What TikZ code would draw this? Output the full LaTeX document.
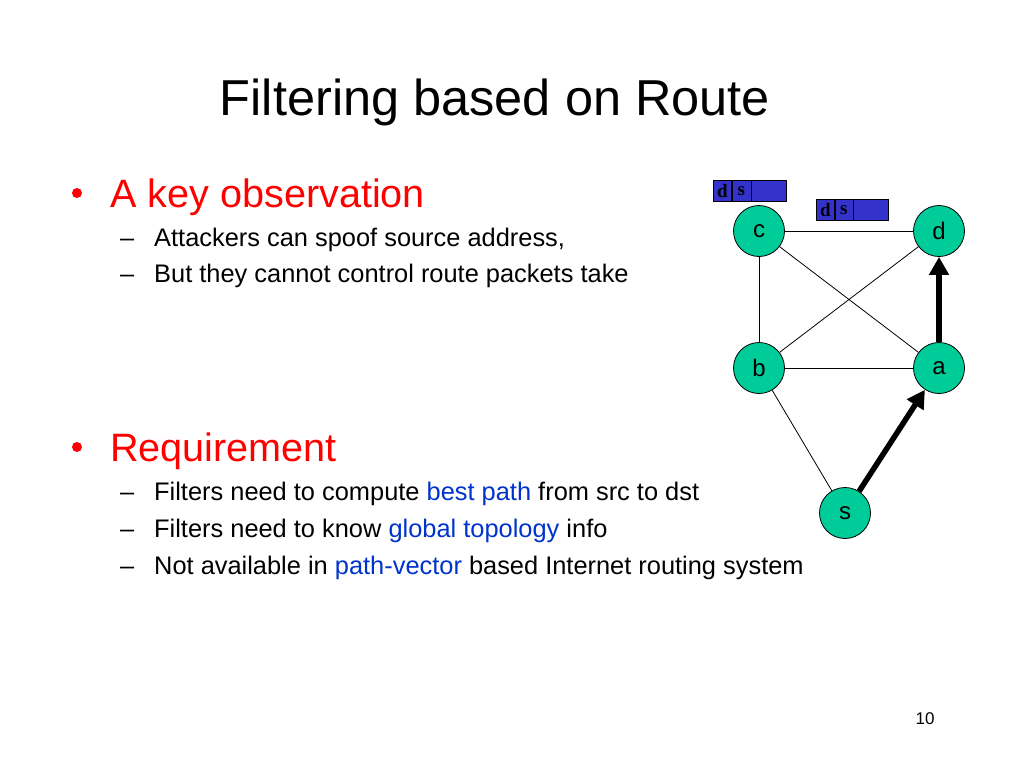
\documentclass[tikz,border=0pt]{standalone}
\usepackage{fontspec}
\setmainfont{Liberation Sans}
\newfontfamily\pktfont{Liberation Serif}
\usetikzlibrary{arrows.meta}
\definecolor{nodegreen}{RGB}{0,204,153}
\definecolor{pktblue}{RGB}{51,51,204}
\definecolor{hired}{RGB}{255,0,0}
\definecolor{hiblue}{RGB}{0,51,204}
\begin{document}
\begin{tikzpicture}[x=1pt,y=-1pt,
  txt/.style={anchor=base west,inner sep=0pt,font=\fontsize{25.4}{30}\selectfont},
  head/.style={anchor=base west,inner sep=0pt,text=hired,font=\fontsize{39.6}{46}\selectfont},
  bul/.style={circle,fill=hired,inner sep=0pt,minimum size=10pt},
  router/.style={circle,draw=black,line width=0.8pt,fill=nodegreen,minimum size=51pt,inner sep=0pt,font=\fontsize{24}{26}\selectfont},
  link/.style={draw=black,line width=0.8pt},
  route/.style={draw=black,line width=5.5pt,-{Triangle[length=18pt,width=19pt]}},
  pktcell/.style={draw=black,line width=0.6pt,fill=pktblue,minimum height=21pt,inner sep=0pt,font=\fontsize{19}{19}\bfseries\pktfont\selectfont}
]
\useasboundingbox (0,0) rectangle (1024,768);
\fill[white] (0,0) rectangle (1024,768);

% title
\node[anchor=base,inner sep=0pt,font=\fontsize{50.5}{58}\selectfont] (title) at (495,115) {Filtering based on Route};

% first bullet
\node[bul] (b1) at (77,193) {};
\node[head] (h1) at (110,207) {A key observation};
\node[txt] (d11) at (120,246) {–};
\node[txt] (t11) at (154,246) {Attackers can spoof source address,};
\node[txt] (d12) at (120,282) {–};
\node[txt] (t12) at (154,282) {But they cannot control route packets take};

% second bullet
\node[bul] (b2) at (77,447) {};
\node[head] (h2) at (110,461) {Requirement};
\node[txt] (d21) at (120,500) {–};
\node[txt] (t21) at (154,500) {Filters need to compute \textcolor{hiblue}{best path} from src to dst};
\node[txt] (d22) at (120,537) {–};
\node[txt] (t22) at (154,537) {Filters need to know \textcolor{hiblue}{global topology} info};
\node[txt] (d23) at (120,574) {–};
\node[txt] (t23) at (154,574) {Not available in \textcolor{hiblue}{path-vector} based Internet routing system};

% page number
\node[anchor=base,inner sep=0pt,font=\fontsize{17}{20}\selectfont] (pg) at (925,724) {10};

% routers
\node[router] (c) at (759,231) {c};
\node[router] (d) at (939,231) {d};
\node[router] (b) at (759,368) {b};
\node[router] (a) at (939,368) {a};
\node[router] (s) at (845,513) {s};

\draw[link] (c) -- (d);
\draw[link] (c) -- (b);
\draw[link] (c) -- (a);
\draw[link] (b) -- (d);
\draw[link] (b) -- (a);
\draw[link] (b) -- (s);
\draw[route] (s) -- (a);
\draw[route] (a) -- (d);

% packets
\node[pktcell,minimum width=18pt,anchor=north west] (p1d) at (713,180) {d};
\node[pktcell,minimum width=19pt,anchor=north west] (p1s) at (p1d.north east) {s};
\node[pktcell,minimum width=35pt,anchor=north west] (p1r) at (p1s.north east) {};
\node[pktcell,minimum width=18pt,anchor=north west] (p2d) at (816,199) {d};
\node[pktcell,minimum width=18pt,anchor=north west] (p2s) at (p2d.north east) {s};
\node[pktcell,minimum width=35pt,anchor=north west] (p2r) at (p2s.north east) {};
\end{tikzpicture}
\end{document}
